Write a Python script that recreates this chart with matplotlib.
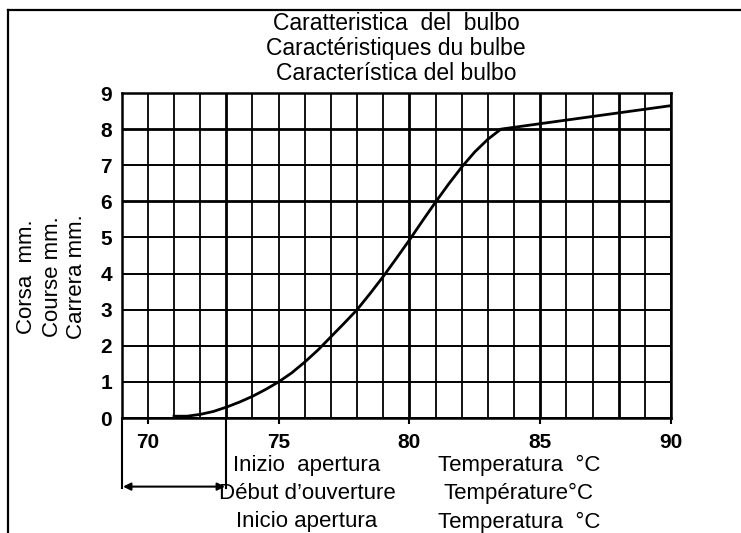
import matplotlib.pyplot as plt
from matplotlib.lines import Line2D

plt.rcParams['font.family'] = ['Liberation Sans', 'DejaVu Sans']

# bulb stroke vs temperature
temp = [71, 71.5, 72, 72.5, 73, 73.5, 74, 74.5, 75, 75.5, 76, 76.5, 77, 77.5, 78,
        78.5, 79, 79.5, 80, 80.5, 81, 81.5, 82, 82.5, 83, 83.5, 90]
stroke = [0.05, 0.05, 0.1, 0.18, 0.3, 0.44, 0.6, 0.79, 1.0, 1.25, 1.55, 1.88, 2.25,
          2.62, 3.0, 3.45, 3.92, 4.42, 4.93, 5.46, 5.98, 6.48, 6.95, 7.37, 7.72, 8.0, 8.65]

x_ticks = [70, 75, 80, 85, 90]
y_ticks = [0, 1, 2, 3, 4, 5, 6, 7, 8, 9]
open_start = 73

title_lines = ["Caratteristica  del  bulbo", "Caractéristiques du bulbe", "Característica del bulbo"]
ylabel_lines = ["Corsa  mm.", "Course mm.", "Carrera mm."]
open_lines = ["Inizio  apertura", "Début d\u2019ouverture", "Inicio apertura"]
temp_lines = ["Temperatura  °C", "Température°C", "Temperatura  °C"]

W, H = 741, 533
fig = plt.figure(figsize=(W / 100, H / 100), dpi=100)


def fx(px):
    return px / W


def fy(py):
    return 1 - py / H


ax = fig.add_axes([fx(121.7), fy(418), (671 - 121.7) / W, (418 - 93) / H])
ax.set_xlim(69, 90)
ax.set_ylim(0, 9)

# grid, a few lines drawn heavier like in the scan
for x in range(69, 91):
    lw = 2.0 if x in (73, 80, 85, 88) else 1.3
    ax.axvline(x, color='black', lw=lw, zorder=1)
for y in range(0, 10):
    lw = 2.0 if y in (6, 8) else 1.4
    ax.axhline(y, color='black', lw=lw, zorder=1)

ax.plot(temp, stroke, color='black', lw=2.0, zorder=3, solid_joinstyle='round')

for s in ax.spines.values():
    s.set_linewidth(1.8)

ax.set_xticks(x_ticks)
ax.set_yticks(y_ticks)
ax.tick_params(axis='x', length=4, width=1.5, pad=7, labelsize=15)
ax.tick_params(axis='y', length=0, pad=7, labelsize=15)
for lab in ax.get_xticklabels() + ax.get_yticklabels():
    lab.set_fontweight('bold')

# opening-start marker with double arrow
ax.plot([69, 69], [0, -1.95], color='black', lw=1.5, clip_on=False)
ax.plot([open_start, open_start], [0, -1.95], color='black', lw=1.5, clip_on=False)
ax.annotate('', xy=(69.05, -1.9), xytext=(open_start - 0.05, -1.9),
            arrowprops=dict(arrowstyle='<|-|>', color='black', lw=1.5,
                            mutation_scale=11, shrinkA=0, shrinkB=0),
            annotation_clip=False)

# frame around the drawing
fig.add_artist(Line2D([fx(8), 1], [fy(10), fy(10)], color='black', lw=1.6))
fig.add_artist(Line2D([fx(8), fx(8)], [0, fy(10)], color='black', lw=1.6))

for i, t in enumerate(title_lines):
    fig.text(fx(396), fy(23 + 25.5 * i), t, ha='center', va='center', fontsize=16.5)

for i, t in enumerate(ylabel_lines):
    fig.text(fx(27 + 25 * i), fy(277), t, ha='center', va='center', rotation=90, fontsize=16)

for i, t in enumerate(open_lines):
    fig.text(fx(307), fy(465 + 28.5 * i), t, ha='center', va='center', fontsize=16)

for i, t in enumerate(temp_lines):
    fig.text(fx(519), fy(465 + 28.5 * i), t, ha='center', va='center', fontsize=16)

fig.savefig('out.png', dpi=100)
